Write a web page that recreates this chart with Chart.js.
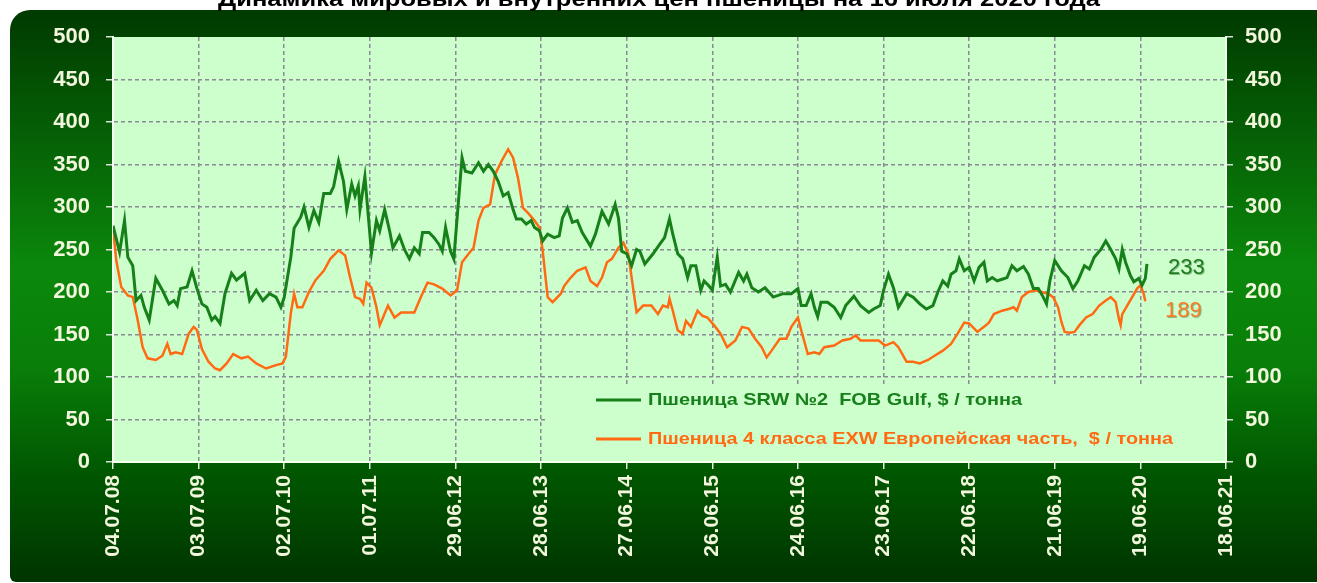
<!DOCTYPE html>
<html lang="ru">
<head>
<meta charset="utf-8">
<title>Динамика цен пшеницы</title>
<script src="https://cdn.jsdelivr.net/npm/chart.js@4.4.1/dist/chart.umd.min.js"></script>
<style>
  html, body { margin:0; padding:0; background:#fff; overflow:hidden; }
  #wrap { width:1317px; height:583px; }
</style>
</head>
<body>
<div id="wrap"><canvas id="wheatChart" width="1317" height="583"></canvas></div>
<script>
/* x = weeks since 04.07.08, one tick label every 52 weeks */
const xLabels = ['04.07.08','03.07.09','02.07.10','01.07.11','29.06.12','28.06.13','27.06.14',
  '26.06.15','24.06.16','23.06.17','22.06.18','21.06.19','19.06.20','18.06.21'];

const titleText = 'Динамика мировых и внутренних цен пшеницы на 16 июля 2020 года';
const seriesNames = ['Пшеница SRW №2  FOB Gulf, $ / тонна',
  'Пшеница 4 класса EXW Европейская часть,  $ / тонна'];

// SRW No2 FOB Gulf
const greenWeeks = [0,4,7,9,12,14,17,19,22,26,30,34,37,39,41,45,48,51,54,57,60,62,65,68,72,75,80,83,87,91,95,99,102,104,
  108,110,114,116,119,122,125,128,132,134,137,140,142,145,147,149,150,153,155,157,160,162,165,168,170,174,177,180,183,186,188,
  192,195,198,200,202,205,207,210,212,214,218,222,225,228,231,234,237,240,243,245,248,251,254,256,259,261,264,268,271,273,276,
  279,282,285,290,293,297,301,305,307,309,312,315,318,320,323,328,332,335,338,340,343,346,349,351,354,357,359,362,364,367,369,
  372,375,380,383,385,388,392,396,401,407,412,416,418,421,424,426,428,430,434,438,442,445,450,454,459,462,466,468,471,474,477,
  482,486,490,494,498,501,504,507,509,512,514,517,520,523,526,529,531,534,537,540,543,546,549,553,556,559,562,565,567,569,572,
  576,580,583,586,590,593,596,600,603,606,609,611,613,615,618,620,623,625,627,628];
const greenPrices = [278,247,284,241,231,190,196,182,167,216,202,186,190,184,204,206,225,204,186,182,167,171,163,198,222,214,222,190,202,190,198,194,182,194,
  241,275,288,300,276,296,282,316,316,324,354,330,297,327,313,325,297,336,291,246,284,272,297,272,252,266,250,239,252,245,270,
  270,264,256,248,276,248,239,311,358,342,340,352,342,350,342,330,313,317,297,286,286,280,284,276,272,260,268,264,266,287,299,
  282,284,270,254,268,295,280,303,287,248,245,231,250,248,233,245,256,264,286,268,245,239,217,231,231,202,213,207,202,241,207,
  209,200,223,213,221,205,200,205,194,198,198,204,184,184,198,182,171,188,188,182,170,184,195,184,176,180,184,202,221,205,182,
  198,194,186,180,184,200,213,207,221,225,239,225,229,213,229,235,213,217,213,215,217,231,225,230,221,204,204,194,186,213,237,
  225,217,204,213,231,227,241,250,260,250,239,227,250,235,219,212,216,208,216,233];

// 4th class EXW, European Russia
const orangeWeeks = [0,2,5,9,12,15,18,21,26,30,33,35,38,42,46,49,51,54,58,62,65,69,73,78,82,87,93,99,103,105,108,110,112,115,
  119,123,128,132,137,141,144,147,150,152,154,157,160,162,164,167,171,175,183,187,191,195,200,205,209,212,216,219,222,225,229,
  232,236,240,243,246,249,252,256,259,261,264,267,272,274,278,282,287,290,294,297,300,303,307,310,313,315,318,322,327,331,334,
  337,338,340,343,346,348,351,355,358,361,365,369,373,378,382,386,390,394,397,400,405,409,412,416,418,422,426,429,432,438,443,
  448,451,454,460,465,469,474,477,482,486,490,495,499,504,509,513,517,520,525,529,532,535,540,544,547,549,552,556,560,564,568,
  571,574,576,578,581,584,587,591,595,599,603,606,609,611,612,613,616,619,622,624,626,627];
const orangePrices = [275,237,206,196,194,167,135,122,120,125,139,127,129,127,151,159,155,133,118,110,108,116,127,122,124,116,110,114,116,124,175,198,182,182,
  200,214,225,239,249,243,217,194,192,186,211,205,182,161,170,184,170,176,176,194,211,209,204,196,202,235,245,252,284,299,303,
  338,354,368,358,334,299,293,284,276,248,194,188,198,207,217,225,229,213,207,217,235,239,252,258,245,217,176,184,184,174,184,
  182,192,178,155,151,166,159,178,172,170,161,151,135,143,159,157,145,135,123,131,145,145,159,170,155,127,129,127,135,137,143,
  145,149,143,143,143,137,141,135,118,118,116,120,125,131,139,151,164,163,153,159,164,174,178,180,182,178,194,200,202,200,198,
  194,182,165,153,152,153,161,170,174,184,190,194,188,168,161,174,184,194,204,208,198,189];

const GREEN = '#17801a';
const ORANGE = '#ff6a12';
const GRID = '#8a8a96';
const TICK = '#f2f6dc';
const FONT = "'Liberation Sans', Arial, sans-serif";

function toPoints(xs, ys){
  return xs.map((x, i) => ({ x: x, y: ys[i] }));
}

/* draw text squeezed or stretched to a given width */
function fitText(ctx, text, x, y, width){
  const w = ctx.measureText(text).width;
  ctx.save();
  ctx.translate(x, y);
  ctx.scale(width / w, 1);
  ctx.fillText(text, 0, 0);
  ctx.restore();
}

const framePlugin = {
  id: 'frame',
  beforeDraw(chart){
    const ctx = chart.ctx, a = chart.chartArea;
    ctx.save();
    ctx.fillStyle = '#fff';
    ctx.fillRect(0, 0, chart.width, chart.height);

    // green rounded panel
    const g = ctx.createLinearGradient(0, 10, 0, 582);
    g.addColorStop(0, '#003a00');
    g.addColorStop(0.45, '#0b880b');
    g.addColorStop(0.62, '#097f09');
    g.addColorStop(0.82, '#005500');
    g.addColorStop(1, '#003400');
    ctx.fillStyle = g;
    ctx.beginPath();
    ctx.roundRect(10, 10, 1340, 572, [20, 0, 0, 6]);
    ctx.fill();

    // title, mostly cut off at the top
    ctx.fillStyle = '#000';
    ctx.font = 'bold 22px ' + FONT;
    ctx.textBaseline = 'alphabetic';
    ctx.textAlign = 'left';
    fitText(ctx, titleText, 218, 6, 882);

    // plot background
    ctx.fillStyle = '#ccffcc';
    ctx.fillRect(a.left, a.top, a.right - a.left, a.bottom - a.top);
    ctx.restore();
  },
  beforeDatasetsDraw(chart){
    // legend box hides the grid under it
    const ctx = chart.ctx, a = chart.chartArea;
    ctx.save();
    ctx.fillStyle = '#ccffcc';
    ctx.fillRect(546, 384, a.right - 547, a.bottom - 385);
    ctx.restore();
  },
  afterDatasetsDraw(chart){
    const ctx = chart.ctx;
    const ds = chart.data.datasets;
    ctx.save();
    ctx.textAlign = 'left';
    ctx.textBaseline = 'middle';
    ctx.font = 'bold 17px ' + FONT;
    const rows = [{ y: 400, w: 374 }, { y: 439, w: 525 }];
    rows.forEach((r, i) => {
      ctx.strokeStyle = ds[i].borderColor;
      ctx.lineWidth = 3;
      ctx.beginPath();
      ctx.moveTo(596, r.y);
      ctx.lineTo(641, r.y);
      ctx.stroke();
      ctx.fillStyle = ds[i].borderColor;
      fitText(ctx, seriesNames[i], 648, r.y, r.w);
    });

    // last values
    ctx.font = '22px ' + FONT;
    ctx.shadowColor = 'rgba(0,60,0,0.35)';
    ctx.shadowOffsetX = 1;
    ctx.shadowOffsetY = 1;
    ctx.fillStyle = '#1f7d1f';
    ctx.fillText(String(greenPrices[greenPrices.length - 1]), 1168, 268);
    ctx.fillStyle = '#ff7a26';
    ctx.fillText(String(orangePrices[orangePrices.length - 1]), 1165, 311);
    ctx.restore();
  }
};

const yTicks = {
  stepSize: 50,
  color: TICK,
  font: { family: FONT, size: 22, weight: 'bold' }
};

new Chart(document.getElementById('wheatChart'), {
  type: 'line',
  data: {
    datasets: [
      { label: seriesNames[0], data: toPoints(greenWeeks, greenPrices), borderColor: GREEN,
        borderWidth: 3, pointRadius: 0, tension: 0, yAxisID: 'y' },
      { label: seriesNames[1], data: toPoints(orangeWeeks, orangePrices), borderColor: ORANGE,
        borderWidth: 2.5, pointRadius: 0, tension: 0, yAxisID: 'y' }
    ]
  },
  options: {
    responsive: false,
    animation: false,
    devicePixelRatio: 1,
    layout: { padding: { top: 37, left: 0, right: 0, bottom: 0 } },
    plugins: { legend: { display: false }, tooltip: { enabled: false } },
    scales: {
      x: {
        type: 'linear', min: 0, max: 52 * (xLabels.length - 1),
        afterFit: s => { s.height = 121; },
        ticks: {
          stepSize: 52, autoSkip: false, maxRotation: 90, minRotation: 90, padding: 6,
          color: TICK, font: { family: FONT, size: 21, weight: 'bold' },
          callback: v => xLabels[Math.round(v / 52)]
        },
        grid: { color: GRID, lineWidth: 1.5, tickLength: 7, tickColor: '#e6eedd' },
        border: { color: '#f4fff0', width: 2, dash: [4, 3] }
      },
      y: {
        position: 'left', min: 0, max: 500,
        afterFit: s => { s.width = 113; },
        ticks: Object.assign({ padding: 16 }, yTicks),
        grid: {
          color: c => (c.tick && c.tick.value === 500) ? 'rgba(0,0,0,0)' : GRID,
          lineWidth: 1.5, tickLength: 7, tickColor: '#d8e0d8'
        },
        border: { color: '#f4fff0', width: 2, dash: [4, 3] }
      },
      y2: {
        position: 'right', min: 0, max: 500,
        afterFit: s => { s.width = 91; },
        ticks: Object.assign({ padding: 12 }, yTicks),
        grid: { drawOnChartArea: false, tickLength: 7, tickColor: '#d8e0d8', lineWidth: 1.5 },
        border: { color: '#f4fff0', width: 2 }
      }
    }
  },
  plugins: [framePlugin]
});
</script>
</body>
</html>
